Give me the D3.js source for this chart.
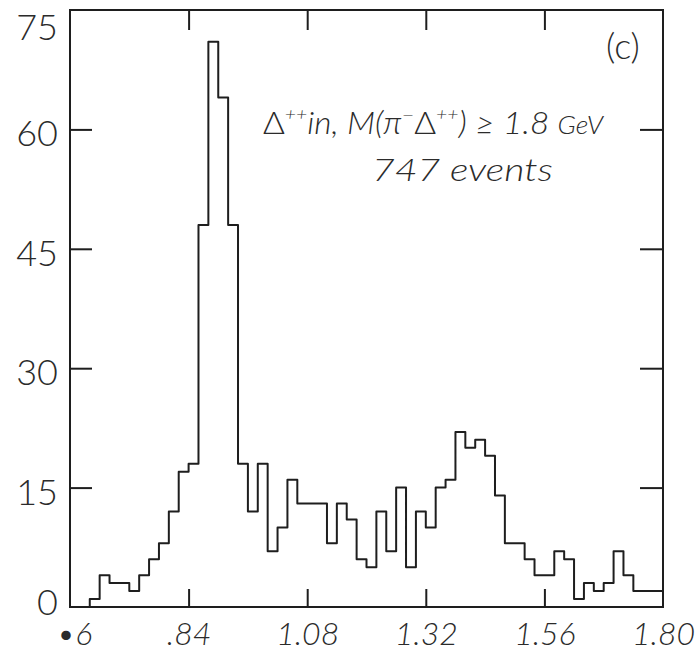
<!DOCTYPE html>
<html>
<head>
<meta charset="utf-8">
<script src="https://cdn.jsdelivr.net/npm/d3@7"></script>
<style>
  body { margin: 0; background: #fff; }
  text { font-family: Lato, "DejaVu Sans", sans-serif; fill: #2b2b2b; font-weight: 300; }
</style>
</head>
<body>
<svg id="chart" width="695" height="655"></svg>
<script>
// histogram of counts, bins of 0.02 starting at 0.6
var counts = [0, 0, 1, 4, 3, 3, 2, 4, 6, 8,
              12, 17, 18, 48, 71, 64, 48, 18, 12, 18,
              7, 10, 16, 13, 13, 13, 8, 13, 11, 6,
              5, 12, 7, 15, 5, 12, 10, 15, 16, 22,
              20, 21, 19, 14, 8, 8, 6, 4, 4, 7,
              6, 1, 3, 2, 3, 7, 4, 2, 2, 2]
var binStart = 0.6
var binWidth = 0.02

var xTicks = [0.6, 0.84, 1.08, 1.32, 1.56, 1.80]
var xLabels = ["\u20226", ".84", "1.08", "1.32", "1.56", "1.80"]
var yTicks = [0, 15, 30, 45, 60, 75]
var yLabels = ["0", "15", "30", "45", "60", "75"]

var panelLabel = "(c)"
var noteLine2 = "747 events"

var svg = d3.select("#chart")
var x = d3.scaleLinear().domain([0.6, 1.8]).range([70, 663])
var y = d3.scaleLinear().domain([0, 75]).range([607, 10])

var ink = "#1e1e1e"
var innerX = xTicks.slice(1, -1)
var innerY = yTicks.slice(1, -1)

// frame
svg.append("rect")
    .attr("x", x(0.6)).attr("y", y(75))
    .attr("width", x(1.8) - x(0.6)).attr("height", y(0) - y(75))
    .attr("fill", "none").attr("stroke", ink).attr("stroke-width", 2)

function styleAxis(g) {
    g.select(".domain").remove()
    g.selectAll(".tick line").attr("stroke", ink).attr("stroke-width", 2)
}

// bottom axis, ticks point up into the plot
var bottomAxis = svg.append("g")
    .attr("transform", "translate(0," + y(0) + ")")
    .call(d3.axisBottom(x).tickValues(xTicks).tickSize(-18).tickPadding(15)
        .tickFormat(function (d, i) { return xLabels[i] }))
bottomAxis.call(styleAxis)
bottomAxis.selectAll(".tick line").filter(function (d) { return innerX.indexOf(d) < 0 }).remove()
bottomAxis.selectAll(".tick text")
    .attr("font-size", 32).attr("font-style", "italic").attr("fill", "#2b2b2b")
    .attr("font-family", "Lato, 'DejaVu Sans', sans-serif")
    .attr("x", function (d) { return d === 0.6 ? 4 : 0 })

// left axis
var leftAxis = svg.append("g")
    .attr("transform", "translate(" + x(0.6) + ",0)")
    .call(d3.axisLeft(y).tickValues(yTicks).tickSize(-22).tickPadding(12)
        .tickFormat(function (d, i) { return yLabels[i] }))
leftAxis.call(styleAxis)
leftAxis.selectAll(".tick line").filter(function (d) { return innerY.indexOf(d) < 0 }).remove()
leftAxis.selectAll(".tick text")
    .attr("font-size", 36).attr("fill", "#2b2b2b")
    .attr("font-family", "Lato, 'DejaVu Sans', sans-serif")
    .attr("y", function (d) { return d === 75 ? 18 : (d === 0 ? -4 : 5) })

// top and right ticks
var topAxis = svg.append("g")
    .attr("transform", "translate(0," + y(75) + ")")
    .call(d3.axisTop(x).tickValues(innerX).tickSize(-20).tickFormat(""))
topAxis.call(styleAxis)

var rightAxis = svg.append("g")
    .attr("transform", "translate(" + x(1.8) + ",0)")
    .call(d3.axisRight(y).tickValues(innerY).tickSize(-23).tickFormat(""))
rightAxis.call(styleAxis)

// histogram outline
var pts = counts.map(function (c, i) { return [binStart + i * binWidth, c] })
pts.push([binStart + counts.length * binWidth, counts[counts.length - 1]])

var line = d3.line()
    .x(function (d) { return x(d[0]) })
    .y(function (d) { return y(d[1]) })
    .curve(d3.curveStepAfter)

svg.append("path")
    .datum(pts)
    .attr("d", line)
    .attr("fill", "none")
    .attr("stroke", ink)
    .attr("stroke-width", 2)
    .attr("stroke-linejoin", "round")

// annotations
svg.append("text")
    .attr("x", 606).attr("y", 59)
    .attr("font-size", 36)
    .text(panelLabel)

var note = svg.append("text")
    .attr("x", 263).attr("y", 134)
    .attr("font-size", 31).attr("font-style", "italic")
    .attr("textLength", 340).attr("lengthAdjust", "spacingAndGlyphs")
note.append("tspan").attr("font-style", "normal").text("\u0394")
note.append("tspan").attr("font-size", 18).attr("dy", -14).text("++")
note.append("tspan").attr("dy", 14).text("in, M(\u03c0")
note.append("tspan").attr("font-size", 20).attr("dy", -12).text("\u2212")
note.append("tspan").attr("dy", 12).attr("font-style", "normal").text("\u0394")
note.append("tspan").attr("font-size", 18).attr("dy", -14).text("++")
note.append("tspan").attr("dy", 14).text(") \u2265 1.8 ")
note.append("tspan").attr("font-size", 25).text("GeV")

svg.append("text")
    .attr("x", 372).attr("y", 181)
    .attr("font-size", 32).attr("font-style", "italic")
    .attr("textLength", 181).attr("lengthAdjust", "spacingAndGlyphs")
    .text(noteLine2)
</script>
</body>
</html>
